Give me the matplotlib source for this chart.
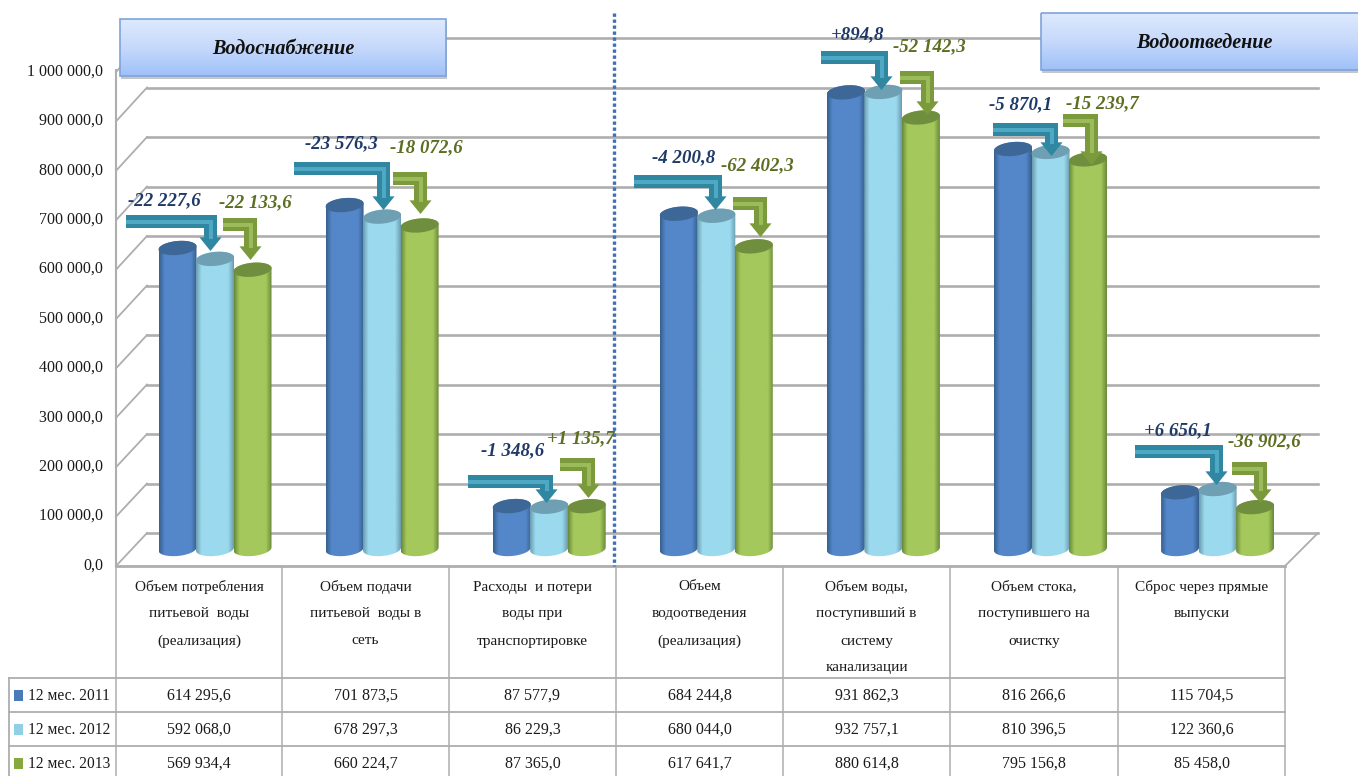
import numpy as np
import matplotlib
matplotlib.use('Agg')
import matplotlib.pyplot as plt
from matplotlib.patches import Polygon, Rectangle
from matplotlib.colors import LinearSegmentedColormap

plt.rcParams['font.family'] = ['Liberation Serif', 'DejaVu Serif']

categories = [
    ['Объем потребления', 'питьевой  воды', '(реализация)'],
    ['Объем подачи', 'питьевой  воды в', 'сеть'],
    ['Расходы  и потери', 'воды при', 'транспортировке'],
    ['Объем', 'водоотведения', '(реализация)'],
    ['Объем воды,', 'поступивший в', 'систему', 'канализации'],
    ['Объем стока,', 'поступившего на', 'очистку'],
    ['Сброс через прямые', 'выпуски'],
]
series_names = ['12 мес. 2011', '12 мес. 2012', '12 мес. 2013']
v2011 = [614295.6, 701873.5, 87577.9, 684244.8, 931862.3, 816266.6, 115704.5]
v2012 = [592068.0, 678297.3, 86229.3, 680044.0, 932757.1, 810396.5, 122360.6]
v2013 = [569934.4, 660224.7, 87365.0, 617641.7, 880614.8, 795156.8, 85458.0]
delta_12 = ['-22 227,6', '-23 576,3', '-1 348,6', '-4 200,8', '+894,8', '-5 870,1', '+6 656,1']
delta_13 = ['-22 133,6', '-18 072,6', '+1 135,7', '-62 402,3', '-52 142,3', '-15 239,7', '-36 902,6']
y_ticks = [0, 100000, 200000, 300000, 400000, 500000, 600000, 700000, 800000, 900000, 1000000]

W, H = 1358, 776
PX_PER_CAT = 167.1
PX_PER_VAL = 0.00049
X0, Y0 = 215.0, 549.0  # pixel position of group 0, value 0

body_cols = [('#35608f', '#5487c9'), ('#6c9db0', '#9bdaee'), ('#6b8a3a', '#a4c85c')]
top_cols = ['#3d6796', '#6f9fb2', '#6f8f3e']
legend_cols = ['#4a7ab8', '#8fd0e4', '#86a83f']
teal, teal_in = '#2f87a1', '#4fa9c4'
green, green_in = '#7b9a3c', '#9cbc5c'
navy, olive = '#1f3a68', '#5c6e22'
grid_col = '#aeaeae'
txt_col = '#1a1a1a'


def fmt(v):
    return f'{v:,.1f}'.replace(',', ' ').replace('.', ',')


fig = plt.figure(figsize=(W / 100, H / 100), dpi=100)


def px_axes(z):
    a = fig.add_axes([0, 0, 1, 1], zorder=z)
    a.set_xlim(0, W)
    a.set_ylim(H, 0)
    a.axis('off')
    a.patch.set_alpha(0)
    return a


back = px_axes(1)
ax = fig.add_axes([0, 0, 1, 1], zorder=2)
ax.axis('off')
ax.patch.set_alpha(0)
top = px_axes(3)

# grid and floor
for t in y_ticks:
    yf = 566 - t * 0.000494
    yb = 533 - t * 0.000495
    back.plot([116, 147], [yf, yb], color=grid_col, lw=1.3)
    back.plot([147, 1318], [yb, yb], color=grid_col, lw=1.9)
    back.text(103, yf - 0.5, fmt(t), ha='right', va='center', fontsize=11.5, color=txt_col)
back.plot([116, 116], [70, 566], color=grid_col, lw=1.5)
back.plot([116, 1285], [566, 566], color=grid_col, lw=2.0)
back.plot([1285, 1318], [566, 533], color=grid_col, lw=1.3)

# table
cell_x = [116, 282, 449, 616, 783, 950, 1118, 1285]
for x in cell_x:
    back.plot([x, x], [566, H], color=grid_col, lw=1.1)
for y in [678, 712, 746]:
    back.plot([9, 1285], [y, y], color=grid_col, lw=1.3)
back.plot([9, 9], [678, H], color=grid_col, lw=1.3)
line_y = [587, 614, 641, 668]
for i, lines in enumerate(categories):
    cx = (cell_x[i] + cell_x[i + 1]) / 2
    for j, s in enumerate(lines):
        back.text(cx, line_y[j], s, ha='center', va='center', fontsize=11, color=txt_col)
row_y = [696, 730, 764]
for r, vals in enumerate([v2011, v2012, v2013]):
    back.add_patch(Rectangle((14, row_y[r] - 6), 9, 11, color=legend_cols[r], lw=0))
    back.text(28, row_y[r], series_names[r], ha='left', va='center', fontsize=11.2, color=txt_col)
    for i, v in enumerate(vals):
        cx = (cell_x[i] + cell_x[i + 1]) / 2
        back.text(cx, row_y[r], fmt(v), ha='center', va='center', fontsize=11.5, color=txt_col)

# cylinders
bar_w = 37.5 / PX_PER_CAT
rx = 19.0 / PX_PER_CAT
ry = 7.0 / PX_PER_VAL
tilt = 1.6 / PX_PER_VAL


def ring(cx, cv, t):
    return cx + rx * np.cos(t), cv + ry * np.sin(t) + tilt * np.cos(t)


for s, vals in enumerate([v2011, v2012, v2013]):
    dark, light = body_cols[s]
    cmap = LinearSegmentedColormap.from_list('c', [(0, dark), (0.14, light), (0.85, light), (1, dark)])
    grad = np.linspace(0, 1, 64).reshape(1, -1)
    for i, v in enumerate(vals):
        cx = i + (s - 1) * bar_w
        z = 3 + s * 2
        bx, by = ring(cx, 0, np.linspace(np.pi, 2 * np.pi, 40))
        tx, ty = ring(cx, v, np.linspace(0, np.pi, 40))
        outline = Polygon(np.column_stack([np.r_[bx, tx], np.r_[by, ty]]), closed=True,
                          transform=ax.transData, fc='none', ec='none')
        ax.add_patch(outline)
        im = ax.imshow(grad, extent=[cx - rx, cx + rx, -ry * 2, v + ry * 2], aspect='auto',
                       cmap=cmap, zorder=z, origin='lower', interpolation='bilinear')
        im.set_clip_path(outline)
        ex, ey = ring(cx, v, np.linspace(0, 2 * np.pi, 80))
        ax.fill(ex, ey, color=top_cols[s], zorder=z + 1, lw=0)

ax.set_xlim(-X0 / PX_PER_CAT, (W - X0) / PX_PER_CAT)
ax.set_ylim((Y0 - H) / PX_PER_VAL, Y0 / PX_PER_VAL)


# bent arrows
def bent(x0, x1, y0, tip, th, col, col_in):
    hw = th * 0.85
    sx = x1 - th / 2
    neck = tip - th * 1.05
    pts = [(x0, y0), (x1, y0), (x1, neck), (sx + hw, neck), (sx, tip), (sx - hw, neck),
           (x1 - th, neck), (x1 - th, y0 + th), (x0, y0 + th)]
    top.add_patch(Polygon(pts, closed=True, fc=col, ec='none'))
    top.plot([x0 + 2, sx, sx], [y0 + th / 2, y0 + th / 2, neck], color=col_in, lw=th * 0.22,
             solid_joinstyle='miter')


teal_x0 = [126, 294, 468, 634, 821, 993, 1135]
teal_x1 = [217, 390, 553, 722, 888, 1058, 1223]
teal_y = [215, 162, 475, 175, 51, 123, 445]
teal_tip = [251, 210, 503, 210, 90, 156, 485]
green_x0 = [223, 393, 560, 733, 900, 1063, 1232]
green_x1 = [257, 427, 595, 767, 934, 1098, 1267]
green_y = [218, 172, 458, 197, 71, 114, 462]
green_tip = [260, 214, 498, 237, 115, 165, 503]
lab1_xy = [(164, 201), (341, 144), (513, 451), (684, 158), (858, 35), (1021, 105), (1178, 431)]
lab2_xy = [(255, 203), (426, 148), (581, 439), (757, 166), (929, 47), (1102, 104), (1264, 442)]
for i in range(7):
    bent(teal_x0[i], teal_x1[i], teal_y[i], teal_tip[i], 13, teal, teal_in)
    bent(green_x0[i], green_x1[i], green_y[i], green_tip[i], 13, green, green_in)
    top.text(*lab1_xy[i], delta_12[i], ha='center', va='center', fontsize=13.6, style='italic',
             weight='bold', color=navy)
    top.text(*lab2_xy[i], delta_13[i], ha='center', va='center', fontsize=13.6, style='italic',
             weight='bold', color=olive)

# dashed divider
top.plot([614, 614], [13, 566], color='#3f70b8', lw=2.4, ls=(0, (1, 0.8)))

# heading boxes
box_cmap = LinearSegmentedColormap.from_list('box', ['#dde9fe', '#c6d9fb', '#9fc1f9'])
for x0, x1, y0, y1, tx, label in [(120, 446, 19, 76, 283, 'Водоснабжение'),
                                  (1041, W + 5, 13, 70, 1204, 'Водоотведение')]:
    top.add_patch(Rectangle((x0 + 1, y0 + 3), x1 - x0, y1 - y0, fc='#8e8e8e', ec='none', alpha=0.5))
    top.imshow(np.linspace(0, 1, 64).reshape(-1, 1), extent=[x0, x1, y1, y0], aspect='auto',
               cmap=box_cmap, zorder=3, interpolation='bilinear')
    top.add_patch(Rectangle((x0, y0), x1 - x0, y1 - y0, fc='none', ec='#7ea3da', lw=1.2, zorder=4))
    top.text(tx, (y0 + y1) / 2 + 1, label, ha='center', va='center',
             fontsize=14.5, style='italic', weight='bold', color='#111111', zorder=5)
top.set_xlim(0, W)
top.set_ylim(H, 0)

fig.savefig('out.png', dpi=100)
